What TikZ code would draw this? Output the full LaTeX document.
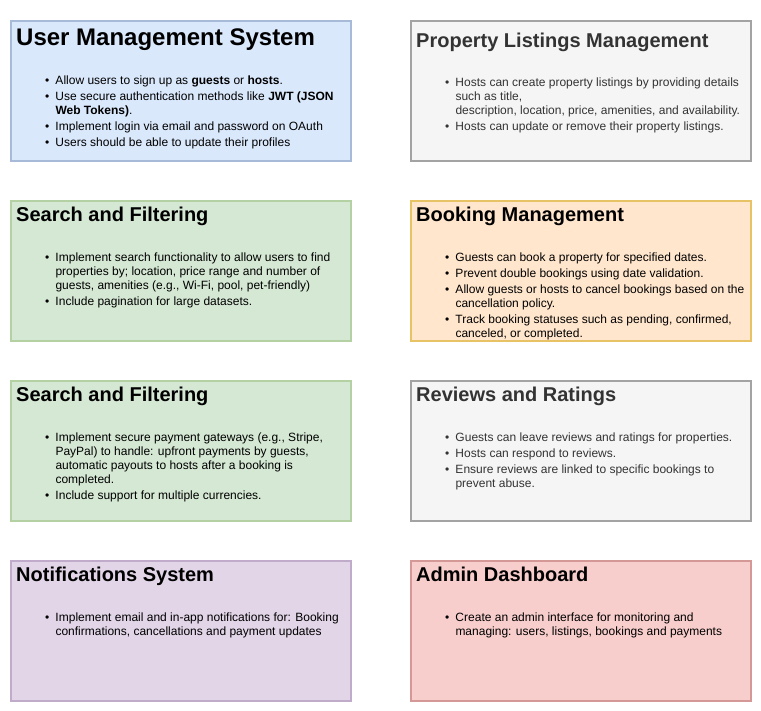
\documentclass[tikz,border=0pt]{standalone}
\usepackage{fontspec}
\setmainfont{Liberation Sans}
\definecolor{bluefill}{HTML}{DAE8FC}\definecolor{bluedraw}{HTML}{6C8EBF}
\definecolor{grayfill}{HTML}{F5F5F5}\definecolor{graydraw}{HTML}{666666}
\definecolor{graytext}{HTML}{333333}
\definecolor{greenfill}{HTML}{D5E8D4}\definecolor{greendraw}{HTML}{82B366}
\definecolor{orangefill}{HTML}{FFE6CC}\definecolor{orangedraw}{HTML}{D79B00}
\definecolor{purplefill}{HTML}{E1D5E7}\definecolor{purpledraw}{HTML}{9673A6}
\definecolor{redfill}{HTML}{F8CECC}\definecolor{reddraw}{HTML}{B85450}
\newcommand\bul{\makebox[10.3pt][l]{\textbullet}}
\newcommand\itemlist[1]{\begin{tabular}[t]{@{}l@{}l@{}}#1\end{tabular}}
\tikzset{
  card/.style={line width=1.6pt, minimum width=340pt, minimum height=140pt,
    inner sep=0pt, anchor=north west},
  bluecard/.style={card, fill=bluefill, draw=bluedraw!60!white},
  graycard/.style={card, fill=grayfill, draw=graydraw!60!white},
  greencard/.style={card, fill=greenfill, draw=greendraw!60!white},
  orangecard/.style={card, fill=orangefill, draw=orangedraw!60!white},
  purplecard/.style={card, fill=purplefill, draw=purpledraw!60!white},
  redcard/.style={card, fill=redfill, draw=reddraw!60!white},
  heading/.style={anchor=base west, inner sep=0pt, font=\bfseries\fontsize{20}{24}\selectfont},
  bigheading/.style={heading, font=\bfseries\fontsize{24}{28}\selectfont},
  body/.style={anchor=base west, inner sep=0pt, font=\fontsize{12}{14}\selectfont},
}
\begin{document}
\begin{tikzpicture}[x=1pt,y=-1pt]
\useasboundingbox (0,0) rectangle (761,711);

% ---- row 1 ----
\node[bluecard] (ums) at (10,20) {};
\node[bigheading] (umsT) at ([xshift=6pt,yshift=-26pt]ums.north west) {User Management System};
\node[body] (umsL) at ([xshift=35pt,yshift=-64.5pt]ums.north west) {\itemlist{
  \bul & Allow users to sign up as \textbf{guests} or \textbf{hosts}.\\[2pt]
  \bul & Use secure authentication methods like \textbf{JWT (JSON}\\
       & \textbf{Web Tokens)}.\\[2pt]
  \bul & Implement login via email and password on OAuth\\[2pt]
  \bul & Users should be able to update their profiles}};

\node[graycard] (plm) at (410,20) {};
\node[heading, text=graytext] (plmT) at ([xshift=6pt,yshift=-27.5pt]plm.north west) {Property Listings Management};
\node[body, text=graytext] (plmL) at ([xshift=35pt,yshift=-67pt]plm.north west) {\itemlist{
  \bul & Hosts can create property listings by providing details\\
       & such as title,\\
       & description, location, price, amenities, and availability.\\[2pt]
  \bul & Hosts can update or remove their property listings.}};

% ---- row 2 ----
\node[greencard] (srch) at (10,200) {};
\node[heading] (srchT) at ([xshift=6pt,yshift=-21.5pt]srch.north west) {Search and Filtering};
\node[body] (srchL) at ([xshift=35pt,yshift=-61.5pt]srch.north west) {\itemlist{
  \bul & Implement search functionality to allow users to find\\
       & properties by; location, price range and number of\\
       & guests, amenities (e.g., Wi-Fi, pool, pet-friendly)\\[2pt]
  \bul & Include pagination for large datasets.}};

\node[orangecard] (book) at (410,200) {};
\node[heading] (bookT) at ([xshift=6pt,yshift=-21.5pt]book.north west) {Booking Management};
\node[body] (bookL) at ([xshift=35pt,yshift=-61.5pt]book.north west) {\itemlist{
  \bul & Guests can book a property for specified dates.\\[2pt]
  \bul & Prevent double bookings using date validation.\\[2pt]
  \bul & Allow guests or hosts to cancel bookings based on the\\
       & cancellation policy.\\[2pt]
  \bul & Track booking statuses such as pending, confirmed,\\
       & canceled, or completed.}};

% ---- row 3 ----
\node[greencard] (pay) at (10,380) {};
\node[heading] (payT) at ([xshift=6pt,yshift=-21.5pt]pay.north west) {Search and Filtering};
\node[body] (payL) at ([xshift=35pt,yshift=-61.5pt]pay.north west) {\itemlist{
  \bul & Implement secure payment gateways (e.g., Stripe,\\
       & PayPal) to handle: upfront payments by guests,\\
       & automatic payouts to hosts after a booking is\\
       & completed.\\[2pt]
  \bul & Include support for multiple currencies.}};

\node[graycard] (rev) at (410,380) {};
\node[heading, text=graytext] (revT) at ([xshift=6pt,yshift=-21.5pt]rev.north west) {Reviews and Ratings};
\node[body, text=graytext] (revL) at ([xshift=35pt,yshift=-61.5pt]rev.north west) {\itemlist{
  \bul & Guests can leave reviews and ratings for properties.\\[2pt]
  \bul & Hosts can respond to reviews.\\[2pt]
  \bul & Ensure reviews are linked to specific bookings to\\
       & prevent abuse.}};

% ---- row 4 ----
\node[purplecard] (notif) at (10,560) {};
\node[heading] (notifT) at ([xshift=6pt,yshift=-21.5pt]notif.north west) {Notifications System};
\node[body] (notifL) at ([xshift=35pt,yshift=-61.5pt]notif.north west) {\itemlist{
  \bul & Implement email and in-app notifications for: Booking\\
       & confirmations, cancellations and payment updates}};

\node[redcard] (adm) at (410,560) {};
\node[heading] (admT) at ([xshift=6pt,yshift=-21.5pt]adm.north west) {Admin Dashboard};
\node[body] (admL) at ([xshift=35pt,yshift=-61.5pt]adm.north west) {\itemlist{
  \bul & Create an admin interface for monitoring and\\
       & managing: users, listings, bookings and payments}};
\end{tikzpicture}
\end{document}
